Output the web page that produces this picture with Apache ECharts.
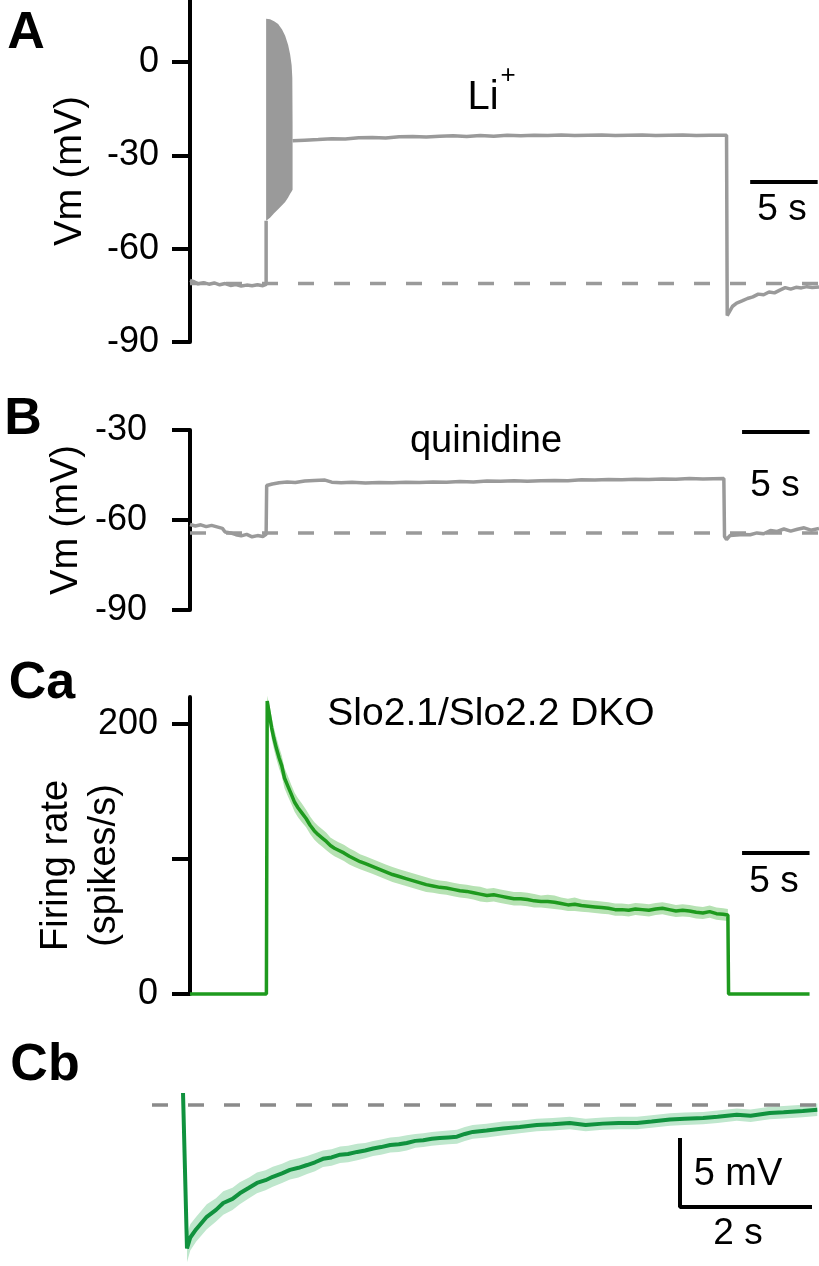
<!DOCTYPE html>
<html><head><meta charset="utf-8">
<script src="https://cdn.jsdelivr.net/npm/echarts@6/dist/echarts.min.js"></script>
<style>html,body{margin:0;padding:0;background:#fff}#c{width:819px;height:1266px}</style>
</head><body><div id="c"></div>
<script>
// ---------- Panel A (Li+) : time in s, Vm in mV ----------
const aTicks = [-90, -60, -30, 0];
const aPre = [[0,-70.2],[0.3,-70.6],[0.6,-71.3],[1.0,-70.9],[1.4,-71.4],[1.8,-71.0],[2.2,-71.6],[2.6,-71.2],[3.0,-71.8],[3.4,-71.5],[3.8,-72.0],[4.2,-71.7],[4.6,-71.9],[5.0,-71.6],[5.4,-71.9],[5.64,-71.5],[5.64,-51]];
const aBurstT   = [5.64, 5.93, 6.23, 6.53, 6.82, 7.05, 7.27, 7.42, 7.53, 7.58, 7.6];
const aBurstTop = [14.0, 13.8, 13.2, 12.3, 10.5, 8.5, 5.5, 2.5, -1, -5, -20];
const aBurstBot = [-51.0, -50.0, -48.6, -47.3, -46.0, -45.0, -43.5, -42.3, -41.6, -41.2, -41.0];
const aPost = [[7.6,-25.3],[8.5,-25.1],[9.5,-24.9],[10.5,-24.6],[11.5,-24.7],[12.5,-24.3],[13.5,-24.2],[14.5,-24.4],[15.5,-24.0],[16.5,-23.9],[17.5,-24.1],[18.5,-23.8],[19.5,-23.7],[20.5,-23.9],[21.5,-23.6],[22.5,-23.8],[23.5,-23.5],[24.5,-23.7],[25.5,-23.5],[26.5,-23.6],[27.5,-23.4],[28.5,-23.6],[29.5,-23.5],[30.5,-23.4],[31.5,-23.6],[32.5,-23.5],[33.5,-23.4],[34.5,-23.6],[35.5,-23.5],[36.5,-23.4],[37.5,-23.6],[38.5,-23.5],[39.75,-23.5],[39.8,-81.5],[40.0,-80],[40.2,-78.5],[40.5,-77.5],[40.9,-76.8],[41.3,-76],[41.7,-75.5],[42.1,-74.6],[42.5,-74.8],[42.9,-73.9],[43.3,-74.2],[43.7,-73.3],[44.1,-72.5],[44.5,-73],[44.9,-72.4],[45.3,-72.6],[45.7,-72.2],[46.1,-72.5],[46.6,-72.3]];
const aBaseline = -71.2;
const aBar = [[41.5,-38.5],[46.5,-38.5]];

// ---------- Panel B (quinidine) ----------
const bTicks = [-90, -60, -30];
const bTrace = [[0,-61.5],[0.4,-62.0],[0.8,-61.6],[1.2,-62.2],[1.6,-61.8],[2.0,-62.3],[2.4,-62.8],[2.6,-64.0],[3.0,-64.3],[3.4,-64.9],[3.8,-65.3],[4.2,-64.8],[4.6,-65.6],[5.0,-65.2],[5.4,-65.5],[5.64,-64.8],[5.68,-48.5],[6.1,-48],[6.6,-47.6],[7.2,-47.3],[7.8,-47.5],[8.5,-47.0],[9.2,-46.8],[10.0,-46.7],[10.5,-47.4],[11.2,-47.6],[12.0,-47.4],[13,-47.7],[14,-47.5],[15,-47.6],[16,-47.4],[17,-47.5],[18,-47.3],[19,-47.4],[20,-47.2],[21,-47.3],[22,-47.0],[23,-47.1],[24,-46.9],[25,-47.1],[26,-46.9],[27,-46.8],[28,-46.9],[29,-46.6],[30,-46.7],[31,-46.5],[32,-46.6],[33,-46.4],[34,-46.5],[35,-46.3],[36,-46.4],[37,-46.2],[38,-46.3],[39.55,-46.2],[39.6,-65.5],[39.75,-66.5],[40.0,-65.2],[40.5,-65.0],[41.0,-64.8],[41.5,-64.9],[42.0,-64.3],[42.5,-64.6],[43.0,-63.5],[43.5,-63.8],[44.0,-63.0],[44.5,-63.7],[45.0,-63.1],[45.5,-62.6],[46.0,-63.4],[46.6,-62.8]];
const bBaseline = -64.3;
const bBar = [[40.9,-30.7],[45.9,-30.7]];

// ---------- Panel Ca (firing rate, spikes/s) ----------
const caTicks = [0, 100, 200];
const caLabels = [0, 200];
const caOn = 5.66, caOff = 39.9, caEnd = 45.9;
const caT = [5.72,5.9,6.05,6.2,6.4,6.6,6.8,7.0,7.25,7.5,7.75,8.0,8.3,8.6,8.9,9.2,9.5,9.8,10.1,10.4,10.7,11.0,11.4,11.8,12.2,12.6,13.0,13.5,14.0,14.5,15.0,15.5,16.0,16.5,17.0,17.5,18.0,18.5,19.0,19.5,20.0,20.5,21.0,21.5,22.0,22.5,23.0,23.5,24.0,24.5,25.0,25.5,26.0,26.5,27.0,27.5,28.0,28.5,29.0,29.5,30.0,30.5,31.0,31.5,32.0,32.5,33.0,33.5,34.0,34.5,35.0,35.5,36.0,36.5,37.0,37.5,38.0,38.5,39.0,39.5,39.85];
const caMean = [217,206,197,190,182,175,169,160,154,148,142,138,134,130,125,121,118,115.5,113,110,108,106.5,104.5,102,100,98,96.5,94.5,92.5,90.5,88.5,87,85.5,84,82.5,81,80,79,78.5,77.5,76.5,76,75,74,73,73.5,72.5,71.5,70.5,70.5,70,69,68.5,68.5,68,67,66,66.5,65.5,65,64.5,64,63.5,62.5,62.5,62,63,62.5,62,63,63.5,62.5,61.5,62,61.5,60.5,60,61,59.5,59,58.5];
const caSem = [4,7,8,8,8,8,7.5,7.5,7.5,7,7,7,7,6.5,6.5,6.5,6.5,6.5,6.5,6,6,6,6,6,6,5.5,5.5,5.5,5.5,5.5,5.5,5.5,5.5,5.5,5.5,5.5,5,5,5,5,5,5,5,5.5,5,5,5,5,5,5,5,5,4.5,5,5,4.5,4.5,5,4.5,4.5,4.5,4.5,4.5,4.5,4.5,4.5,4.5,4.5,4.5,4.5,4.5,4.5,4.5,4.5,4.5,4.5,4.5,4.5,4.5,4.5,4.5];
const caBar = [[40.9,104.4],[45.9,104.4]];

// ---------- Panel Cb (afterhyperpolarization, mV vs s) ----------
const cbPeak = [0, 0.87];
const cbT = [0.06,0.11,0.2,0.36,0.5,0.61,0.75,0.86,1.0,1.12,1.25,1.36,1.5,1.62,1.75,1.88,2.0,2.12,2.25,2.38,2.5,2.64,2.76,2.88,3.0,3.14,3.27,3.39,3.52,3.64,3.77,3.89,4.02,4.15,4.27,4.39,4.6,4.85,5.1,5.36,5.6,5.86,6.1,6.36,6.6,6.88,7.1,7.38,7.6,7.88,8.1,8.39,8.6,8.89,9.1,9.39,9.61];
const cbMean = [-10.4,-9.6,-9.0,-8.1,-7.6,-7.1,-6.8,-6.4,-6.0,-5.65,-5.45,-5.2,-4.95,-4.7,-4.55,-4.35,-4.15,-3.9,-3.8,-3.6,-3.55,-3.4,-3.3,-3.15,-3.05,-2.9,-2.85,-2.75,-2.6,-2.55,-2.45,-2.4,-2.35,-2.3,-2.1,-1.95,-1.85,-1.7,-1.6,-1.45,-1.4,-1.3,-1.45,-1.35,-1.3,-1.3,-1.2,-1.05,-1.0,-0.95,-0.85,-0.7,-0.78,-0.58,-0.52,-0.43,-0.35];
const cbSem = [1.0,0.95,0.9,0.9,0.85,0.85,0.8,0.8,0.75,0.75,0.72,0.72,0.7,0.7,0.7,0.65,0.65,0.6,0.6,0.6,0.6,0.6,0.55,0.55,0.55,0.55,0.55,0.55,0.5,0.5,0.5,0.5,0.5,0.5,0.5,0.5,0.5,0.5,0.45,0.45,0.45,0.45,0.45,0.45,0.45,0.45,0.45,0.45,0.45,0.45,0.45,0.45,0.45,0.45,0.45,0.45,0.45];
const cbBaseline = [[-0.47,0],[9.64,0]];
const cbBar = [[7.53,-2.4],[7.53,-7.4],[9.53,-7.4]];

// ---------- build ----------
const FONT = 'Liberation Sans, Arial, sans-serif';
const GREY = '#9a9a9a';
const chart = echarts.init(document.getElementById('c'), null, {renderer: 'canvas'});

function polyRender(xs, hi, lo, fill) {
  return function (params, api) {
    const pts = [];
    for (let i = 0; i < xs.length; i++) pts.push(api.coord([xs[i], hi[i]]));
    for (let i = xs.length - 1; i >= 0; i--) pts.push(api.coord([xs[i], lo[i]]));
    return {type: 'polygon', shape: {points: pts}, style: {fill: fill}};
  };
}
function band(xs, mean, sem, fill, gi) {
  const hi = mean.map((m, i) => m + sem[i]);
  const lo = mean.map((m, i) => m - sem[i]);
  return {type: 'custom', xAxisIndex: gi, yAxisIndex: gi, data: [[xs[0], mean[0]]],
          renderItem: polyRender(xs, hi, lo, fill), silent: true, z: 1};
}
function line(data, gi, color, width, extra) {
  return Object.assign({type: 'line', xAxisIndex: gi, yAxisIndex: gi, data: data, showSymbol: false,
    symbol: 'none', clip: false, silent: true, animation: false, z: 3,
    lineStyle: {color: color, width: width}}, extra || {});
}
function dashed(data, gi, color) {
  return line(data, gi, color, 3.5, {z: 2, lineStyle: {color: color, width: 3.5, type: [16, 20]}});
}
function yAx(gi, min, max, ticks, labels, margin, name, nameGap, nameStyle) {
  return {gridIndex: gi, type: 'value', min: min, max: max,
    axisLine: {show: true, lineStyle: {color: '#000', width: 4}},
    axisTick: {show: true, length: 18, lineStyle: {color: '#000', width: 4}, customValues: ticks},
    axisLabel: {show: true, customValues: labels, fontSize: 36, color: '#000', margin: margin, fontFamily: FONT},
    splitLine: {show: false},
    name: name, nameLocation: 'middle', nameGap: nameGap, nameMoveOverlap: false,
    nameTextStyle: Object.assign({fontSize: 38, color: '#000', fontFamily: FONT}, nameStyle || {})};
}
function xAx(gi, min, max) {
  return {gridIndex: gi, type: 'value', min: min, max: max, show: false,
          axisLine: {show: false}, axisTick: {show: false}, axisLabel: {show: false}, splitLine: {show: false}};
}
function txt(text, x, y, size, bold) {
  return {type: 'text', x: x, y: y, silent: true,
    style: {text: text, fill: '#000', font: (bold ? 'bold ' : '') + size + 'px ' + FONT,
            align: 'center', verticalAlign: 'middle'}};
}

const caLine = [[0, 0], [caOn, 0]].concat(caT.map((t, i) => [t, caMean[i]]), [[caOff, caMean[caMean.length - 1]], [caOff, 0], [caEnd, 0]]);
const cbLine = [cbPeak].concat(cbT.map((t, i) => [t, cbMean[i]]));

const option = {
  animation: false,
  backgroundColor: '#fff',
  textStyle: {fontFamily: FONT},
  grid: [
    {left: 190, top: 0, width: 629, height: 342, containLabel: false, outerBoundsMode: 'none'},
    {left: 190, top: 430, width: 629, height: 180, containLabel: false, outerBoundsMode: 'none'},
    {left: 190, top: 697, width: 629, height: 297, containLabel: false, outerBoundsMode: 'none'},
    {left: 0, top: 1070, width: 819, height: 196, containLabel: false, outerBoundsMode: 'none'}
  ],
  xAxis: [xAx(0, 0, 46.6), xAx(1, 0, 46.6), xAx(2, 0, 46.6), xAx(3, -2.773, 9.636)],
  yAxis: [
    yAx(0, -90, 20, aTicks, aTicks, 31, 'Vm (mV)', 100),
    yAx(1, -90, -30, bTicks, bTicks, 43, 'Vm (mV)', 104),
    yAx(2, 0, 220, caTicks, caLabels, 32, 'Firing rate\n(spikes/s)', 61, {lineHeight: 48, padding: [0, 40, 0, 0]}),
    {gridIndex: 3, type: 'value', min: -11.667, max: 2.536, show: false, splitLine: {show: false}}
  ],
  series: [
    // A
    dashed([[0, aBaseline], [46.6, aBaseline]], 0, GREY),
    {type: 'custom', xAxisIndex: 0, yAxisIndex: 0, data: [[aBurstT[0], aBurstTop[0]]],
     renderItem: polyRender(aBurstT, aBurstTop, aBurstBot, GREY), silent: true, z: 3},
    line(aPre, 0, GREY, 3.5),
    line(aPost, 0, GREY, 3.5),
    line(aBar, 0, '#000', 4),
    // B
    dashed([[0, bBaseline], [46.6, bBaseline]], 1, GREY),
    line(bTrace, 1, GREY, 3.5),
    line(bBar, 1, '#000', 4),
    // Ca
    band(caT, caMean, caSem, '#b6e2b3', 2),
    line(caLine, 2, '#1e9a1e', 3.5),
    line(caBar, 2, '#000', 4),
    // Cb
    dashed(cbBaseline, 3, '#8a8a8a'),
    band(cbT, cbMean, cbSem, '#bfe7cd', 3),
    line(cbLine, 3, '#10923e', 4),
    line(cbBar, 3, '#000', 4)
  ],
  graphic: [
    txt('A', 26, 34, 52, true),
    txt('B', 23, 420, 52, true),
    txt('Ca', 42, 684, 52, true),
    txt('Cb', 45, 1066, 52, true),
    txt('Li', 483, 98, 40),
    txt('+', 508, 76, 26),
    txt('5 s', 782, 210, 37),
    txt('quinidine', 486, 442, 38),
    txt('5 s', 775, 486, 37),
    txt('Slo2.1/Slo2.2 DKO', 491, 714, 39),
    txt('5 s', 774, 882, 37),
    txt('5 mV', 738, 1175, 38),
    txt('2 s', 738, 1234, 37)
  ]
};
chart.setOption(option);
</script></body></html>
